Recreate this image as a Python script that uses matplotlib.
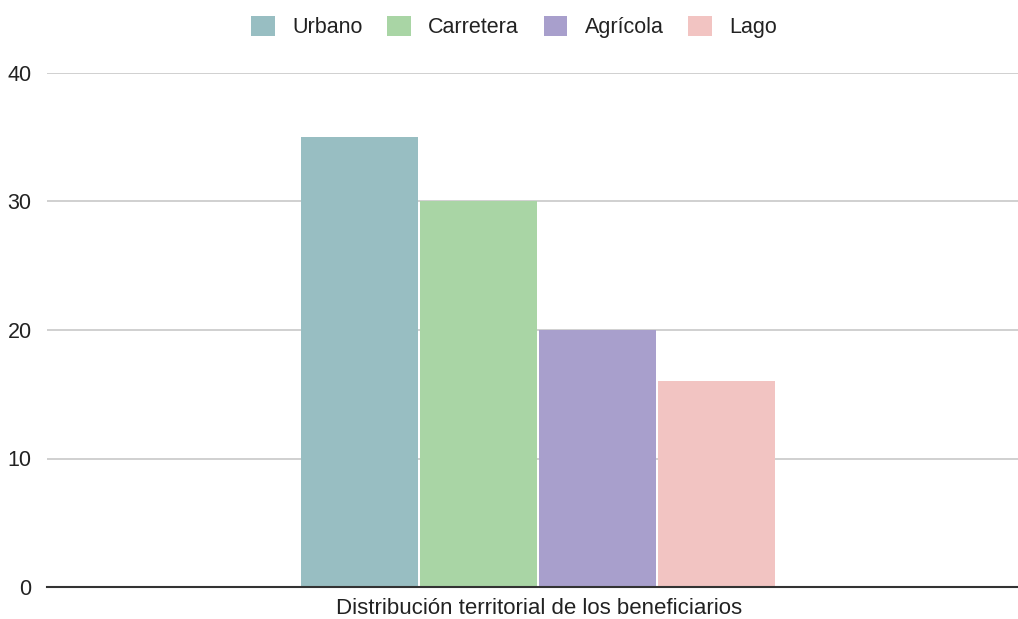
import matplotlib.pyplot as plt
import numpy as np

plt.rcParams['font.family'] = ['Liberation Sans', 'DejaVu Sans']

categorias = ['Urbano', 'Carretera', 'Agrícola', 'Lago']
valores = [35, 30, 20, 16]
colores = ['#98BEC2', '#A9D5A5', '#A89FCC', '#F2C4C2']
ticks_y = [0, 10, 20, 30, 40]

fig = plt.figure(figsize=(10.18, 6.19), dpi=100)
ax = fig.add_axes([47 / 1018, 1 - 587 / 619, 971 / 1018, (587 - 73) / 619])

x = np.arange(len(categorias))
barras = ax.bar(x, valores, width=0.975, color=colores, label=categorias, zorder=3)

ax.set_xlim(-2.626, -2.626 + 971 / 119)
ax.set_ylim(0, 40)
ax.set_yticks(ticks_y)
ax.tick_params(axis='y', length=0, pad=11, labelsize=15.5, labelcolor='#222222')
ax.set_xticks([])
ax.grid(axis='y', color='#C8C8C8', linewidth=1.2, zorder=0)
for s in ['top', 'right', 'left']:
    ax.spines[s].set_visible(False)
ax.spines['bottom'].set_color('#333333')
ax.spines['bottom'].set_linewidth(1.5)
ax.spines['bottom'].set_zorder(4)

ax.set_xlabel('Distribución territorial de los beneficiarios', fontsize=16,
              color='#222222')
# etiqueta centrada bajo el grupo de barras
ax.xaxis.set_label_coords(0.5067, -0.021, transform=ax.transAxes)
ax.xaxis.label.set_va('top')

fig.legend(handles=barras, labels=categorias, loc='center', bbox_to_anchor=(0.505, 1 - 27 / 619),
           ncol=4, frameon=False, fontsize=15.5, handlelength=1.1, handleheight=1.1,
           handletextpad=0.8, columnspacing=1.15, labelcolor='#222222')

fig.savefig('out.png', dpi=100)
